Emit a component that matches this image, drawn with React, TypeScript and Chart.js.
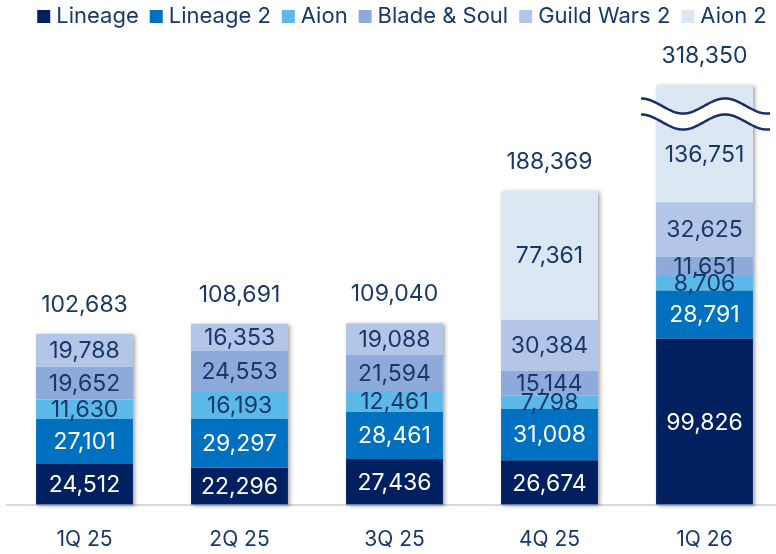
import { useEffect, useRef } from "react";
import { Chart, registerables } from "chart.js";

Chart.register(...registerables);

const categories = ["1Q 25", "2Q 25", "3Q 25", "4Q 25", "1Q 26"];
const seriesNames = ["Lineage", "Lineage 2", "Aion", "Blade & Soul", "Guild Wars 2", "Aion 2"];
const lineage = [24512, 22296, 27436, 26674, 99826];
const lineage2 = [27101, 29297, 28461, 31008, 28791];
const aion = [11630, 16193, 12461, 7798, 8706];
const bladeSoul = [19652, 24553, 21594, 15144, 11651];
const guildWars2 = [19788, 16353, 19088, 30384, 32625];
const aion2 = [0, 0, 0, 77361, 136751];
const totals = [102683, 108691, 109040, 188369, 318350];
const axisMax = 252000;
const brokenIndex = 4;

const colors = ["#002060", "#0070c0", "#5bb9e9", "#8eaadb", "#b4c6e7", "#dce7f4"];
const textColor = "#18386a";
const FONT = "Inter, 'Noto Sans', sans-serif";

const shadowPlugin = {
  id: "barShadow",
  beforeDatasetsDraw(chart: any) {
    const { ctx, chartArea } = chart;
    const yScale = chart.scales.y;
    const meta = chart.getDatasetMeta(0);
    ctx.save();
    ctx.shadowColor = "rgba(0,0,0,0.35)";
    ctx.shadowBlur = 4;
    ctx.shadowOffsetX = 2;
    ctx.shadowOffsetY = 1;
    ctx.fillStyle = "#ffffff";
    meta.data.forEach((bar: any, i: number) => {
      const p = bar.getProps(["x", "width", "base"], true);
      const top = Math.max(yScale.getPixelForValue(totals[i]), chartArea.top);
      ctx.fillRect(p.x - p.width / 2, top, p.width, p.base - top);
    });
    ctx.restore();
  },
};

const labelPlugin = {
  id: "valueLabels",
  afterDatasetsDraw(chart: any) {
    const { ctx, chartArea } = chart;
    const yScale = chart.scales.y;

    // axis break on the tallest bar
    const bMeta = chart.getDatasetMeta(0).data[brokenIndex];
    if (bMeta) {
      const p = bMeta.getProps(["x", "width"], true);
      const x0 = p.x - p.width / 2 - 15;
      const x1 = p.x + p.width / 2 + 18;
      const period = 84;
      const amp = 7.5;
      const upper = chartArea.top + 21;
      const lower = chartArea.top + 37;
      const wave = (yc: number, x: number) => yc - amp * Math.cos((2 * Math.PI * (x - x0)) / period);
      ctx.save();
      ctx.beginPath();
      for (let x = x0; x <= x1; x += 1) {
        const y = wave(upper, x);
        if (x === x0) ctx.moveTo(x, y);
        else ctx.lineTo(x, y);
      }
      for (let x = x1; x >= x0; x -= 1) ctx.lineTo(x, wave(lower, x));
      ctx.closePath();
      ctx.fillStyle = "#ffffff";
      ctx.fill();
      ctx.strokeStyle = "#1b2f66";
      ctx.lineWidth = 2.5;
      [upper, lower].forEach((yc) => {
        ctx.beginPath();
        for (let x = x0; x <= x1; x += 1) {
          const y = wave(yc, x);
          if (x === x0) ctx.moveTo(x, y);
          else ctx.lineTo(x, y);
        }
        ctx.stroke();
      });
      ctx.restore();
    }

    ctx.save();
    ctx.font = `23px ${FONT}`;
    ctx.textAlign = "center";
    ctx.textBaseline = "middle";
    chart.data.datasets.forEach((ds: any, di: number) => {
      const meta = chart.getDatasetMeta(di);
      meta.data.forEach((bar: any, i: number) => {
        const v = ds.data[i];
        if (!v) return;
        const p = bar.getProps(["x", "y", "base"], true);
        let yy;
        if (p.y < chartArea.top) yy = (chartArea.top + p.base) / 2 + 10;
        else yy = (p.y + p.base) / 2;
        ctx.fillStyle = di < 2 ? "#ffffff" : textColor;
        ctx.fillText(v.toLocaleString("en-US"), p.x, yy + 1);
      });
    });
    ctx.fillStyle = textColor;
    const meta0 = chart.getDatasetMeta(0);
    meta0.data.forEach((bar: any, i: number) => {
      const top = Math.max(yScale.getPixelForValue(totals[i]), chartArea.top);
      ctx.fillText(totals[i].toLocaleString("en-US"), bar.x, top - 29);
    });
    ctx.restore();
  },
};

const legendPlugin = {
  id: "customLegend",
  afterDraw(chart: any) {
    const { ctx } = chart;
    ctx.save();
    ctx.font = `22px ${FONT}`;
    ctx.textBaseline = "alphabetic";
    ctx.textAlign = "left";
    const box = 13;
    const gap = 6;
    const itemGap = 11;
    const widths = seriesNames.map((n) => ctx.measureText(n).width);
    const total = widths.reduce((a, w) => a + box + gap + w, 0) + itemGap * (seriesNames.length - 1);
    let x = 402 - total / 2;
    const baseline = 23;
    seriesNames.forEach((n, i) => {
      ctx.fillStyle = colors[i];
      ctx.fillRect(x, baseline - box, box, box);
      ctx.fillStyle = textColor;
      ctx.fillText(n, x + box + gap, baseline);
      x += box + gap + widths[i] + itemGap;
    });
    ctx.restore();
  },
};

export default function App() {
  const ref = useRef<HTMLCanvasElement | null>(null);
  useEffect(() => {
    document.body.style.margin = "0";
    document.body.style.overflow = "hidden";
    document.documentElement.style.overflow = "hidden";
    const seriesData = [lineage, lineage2, aion, bladeSoul, guildWars2, aion2];
    const chart = new Chart(ref.current as HTMLCanvasElement, {
      type: "bar",
      data: {
        labels: categories,
        datasets: seriesNames.map((name, i) => ({
          label: name,
          data: seriesData[i],
          backgroundColor: colors[i],
          borderWidth: 0,
          categoryPercentage: 1,
          barPercentage: 0.625,
        })),
      },
      options: {
        responsive: false,
        animation: false,
        events: [],
        layout: { padding: { top: 85, left: 7, right: 8, bottom: 1 } },
        plugins: {
          legend: { display: false },
          tooltip: { enabled: false },
          title: { display: false },
        },
        scales: {
          x: {
            stacked: true,
            grid: { display: false, drawTicks: false },
            border: { display: true, color: "#d9d9d9", width: 2 },
            ticks: { color: textColor, font: { family: FONT, size: 21 }, padding: 22 },
          },
          y: {
            stacked: true,
            display: false,
            min: 0,
            max: axisMax,
          },
        },
      },
      plugins: [shadowPlugin, labelPlugin, legendPlugin],
    });
    return () => chart.destroy();
  }, []);
  return (
    <div style={{ width: 776, height: 554, overflow: "hidden" }}>
      <canvas ref={ref} width={790} height={575} style={{ display: "block" }} />
    </div>
  );
}
